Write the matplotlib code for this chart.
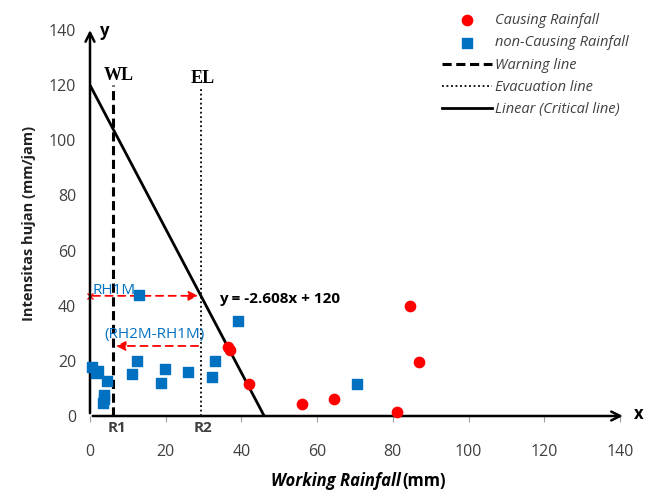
import matplotlib.pyplot as plt
import numpy as np

# data
causing_x = [36.5, 37.0, 41.9, 55.9, 64.4, 81.1, 84.5, 87.0]
causing_y = [25.0, 24.0, 11.5, 4.3, 6.0, 1.3, 39.9, 19.7]
noncausing_x = [0.4, 1.6, 2.1, 3.8, 3.6, 3.4, 4.5, 11.0, 12.3, 13.0, 18.7,
                19.9, 26.0, 32.1, 33.0, 39.0, 70.6]
noncausing_y = [17.8, 15.6, 16.4, 7.5, 6.2, 4.8, 12.8, 15.1, 19.9, 43.8, 11.8,
                17.0, 16.0, 14.0, 19.9, 34.5, 11.6]
slope, intercept = -2.608, 120
R1, R2 = 6.1, 29.3
wl_top, el_top = 120, 119
xticks = [0, 20, 40, 60, 80, 100, 120, 140]
yticks = [0, 20, 40, 60, 80, 100, 120, 140]

red = '#FF0000'
blue = '#0070C0'
grey = '#404040'
sans = 'Open Sans'

fig = plt.figure(figsize=(6.48, 4.92), dpi=100)
ax = fig.add_axes([90 / 648, 76 / 492, 530 / 648, 386 / 492])
ax.set_xlim(0, 140)
ax.set_ylim(0, 140)
for s in ax.spines.values():
    s.set_visible(False)

# axes drawn as arrows
ax.annotate('', xy=(141.5, 0), xytext=(0, 0),
            arrowprops=dict(arrowstyle='->', color='black', lw=1.8,
                            mutation_scale=16), annotation_clip=False)
ax.annotate('', xy=(0, 141), xytext=(0, 0),
            arrowprops=dict(arrowstyle='->', color='black', lw=1.8,
                            mutation_scale=16), annotation_clip=False)
ax.text(145, 0.8, 'x', fontsize=12, fontweight='bold', family=sans,
        ha='center', va='center')
ax.text(4, 139.5, 'y', fontsize=12, fontweight='bold', family=sans,
        ha='center', va='center')

ax.set_xticks(xticks)
ax.set_yticks(yticks)
ax.tick_params(axis='x', length=4, color='#A0A0A0', labelsize=11.5,
               labelcolor=grey, pad=16)
ax.tick_params(axis='y', length=0, labelsize=11.5, labelcolor=grey, pad=10)
for lab in ax.get_xticklabels() + ax.get_yticklabels():
    lab.set_family(sans)

# critical line, warning and evacuation lines
x0 = -intercept / slope
xs = np.array([0, x0])
ax.plot(xs, slope * xs + intercept, color='black', lw=2,
        label='Linear (Critical line)')
ax.plot([R1, R1], [0, wl_top], color='black', lw=2.2, ls=(0, (3, 1.5)),
        label='Warning line')
ax.plot([R2, R2], [0, el_top], color='black', lw=1.3, ls=(0, (1, 1.5)),
        label='Evacuation line')

ax.scatter(causing_x, causing_y, s=55, color=red, marker='o', zorder=5,
           label='Causing Rainfall', clip_on=False)
ax.scatter(noncausing_x, noncausing_y, s=45, color=blue, marker='s', zorder=5,
           label='non-Causing Rainfall', clip_on=False)

# RH1M / RH2M arrows
y1 = slope * R2 + intercept
ax.annotate('', xy=(R2, y1), xytext=(0, y1),
            arrowprops=dict(arrowstyle='-|>', color=red, lw=1.3,
                            ls=(0, (4, 3)), mutation_scale=14))
ax.plot([0], [y1], marker='x', color=red, ms=5, mew=1, clip_on=False)
ax.annotate('', xy=(R1, 25.4), xytext=(R2, 25.4),
            arrowprops=dict(arrowstyle='-|>', color=red, lw=1.3,
                            ls=(0, (4, 3)), mutation_scale=14))
ax.text(0.7, 45.6, 'RH1M', color=blue, fontsize=11, family=sans,
        va='center', ha='left')
ax.text(3.8, 29.7, '(RH2M-RH1M)', color=blue, fontsize=11, family=sans,
        va='center', ha='left')
ax.text(34, 42.3, 'y = -2.608x + 120', fontsize=11, fontweight='bold',
        family=sans, va='center', ha='left')

ax.text(3.7, 123.4, 'WL', fontsize=13, fontweight='bold',
        family='Liberation Serif', ha='left', va='center')
ax.text(29.8, 122.3, 'EL', fontsize=13, fontweight='bold',
        family='Liberation Serif', ha='center', va='center')
ax.text(R1 + 1, -4.5, 'R1', fontsize=11, fontweight='bold', family=sans,
        color=grey, ha='center', va='center')
ax.text(R2 + 0.5, -4.5, 'R2', fontsize=11, fontweight='bold', family=sans,
        color=grey, ha='center', va='center')

ax.set_ylabel('Intensitas hujan (mm/jam)', fontsize=10.5, fontweight='bold',
              family=sans, color='#202020', labelpad=9)
fig.text(0.619, 0.022, 'Working Rainfall', fontsize=12, fontweight='bold',
         style='italic', family=sans, ha='right', va='center')
fig.text(0.621, 0.022, '(mm)', fontsize=12, fontweight='bold',
         family=sans, ha='left', va='center')

h, l = ax.get_legend_handles_labels()
order = [3, 4, 1, 2, 0]
leg = fig.legend([h[i] for i in order], [l[i] for i in order],
                 loc='upper right', bbox_to_anchor=(0.99, 1.0),
                 frameon=False, handlelength=3.4, handletextpad=0.2,
                 labelspacing=0.5, prop=dict(family=sans, style='italic',
                                             size=10.5))
for t in leg.get_texts():
    t.set_color(grey)

fig.savefig('out.png', dpi=100)
